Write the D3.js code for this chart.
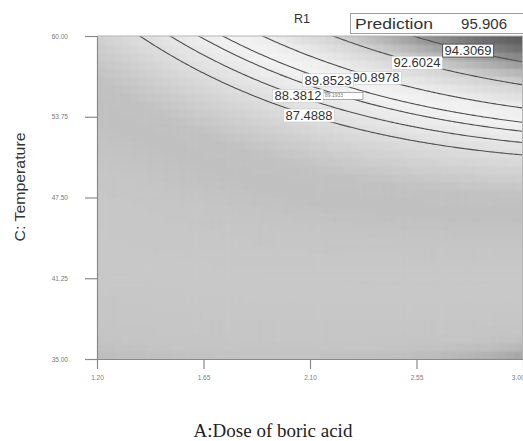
<!DOCTYPE html>
<html><head><meta charset="utf-8">
<script src="https://cdn.jsdelivr.net/npm/d3@7"></script>
<style>body{margin:0;background:#fff;} svg{display:block;}</style>
</head><body>
<svg id="chart" width="523" height="441"></svg>
<script>
// ---------------- data ----------------
const chartTitle = "R1";
const xAxisTitle = "A:Dose of boric acid";
const yAxisTitle = "C: Temperature";
const xTickValues = [1.20, 1.65, 2.10, 2.55, 3.00];
const xTickLabels = ["1.20", "1.65", "2.10", "2.55", "3.00"];
const yTickValues = [35.00, 41.25, 47.50, 53.75, 60.00];
const yTickLabels = ["35.00", "41.25", "47.50", "53.75", "60.00"];
const doseRange = [1.20, 3.00];
const tempRange = [35.00, 60.00];
// fitted quadratic response surface (coded units): intercept, A, C, AC, A^2, C^2
const modelTerms = ["Intercept", "A", "C", "AC", "A^2", "C^2"];
const modelCoefs = [83.025, 2.295, 8.6, 2.755, -0.85, 0.44];
const contourLevels = [87.4888, 88.3812, 89.1933, 89.8523, 90.8978, 92.6024, 94.3069];
const contourLabels = ["87.4888", "88.3812", "89.1933", "89.8523", "90.8978", "92.6024", "94.3069"];
// dose (A) at which each contour label sits on its line
const labelDose = [2.096, 2.049, 2.235, 2.176, 2.379, 2.552, 2.768];
const predictionName = "Prediction";
const predictionValue = "95.906";

// ---------------- drawing ----------------
const svg = d3.select("#chart");
const plot = {left: 97, right: 523, top: 36, bottom: 359};
const x = d3.scaleLinear().domain(doseRange).range([plot.left, plot.right]);
const y = d3.scaleLinear().domain(tempRange).range([plot.bottom, plot.top]);
const sans = "Arial, 'Liberation Sans', sans-serif";
const serif = "'Times New Roman', 'Liberation Serif', serif";

function response(A, C) {
  const a = (A - 2.1) / 0.9, c = (C - 47.5) / 12.5;
  const [b0, b1, b2, b12, b11, b22] = modelCoefs;
  return b0 + b1 * a + b2 * c + b12 * a * c + b11 * a * a + b22 * c * c;
}

const gray = d3.scaleLinear()
  .domain([73.5, 74.0, 74.6, 75.3, 78, 81, 83, 84.5, 86, 87.5, 89, 90, 91, 92.6, 93.5, 94.3, 95.3, 96.3])
  .range([150, 174, 190, 197, 200, 198, 192, 193, 207, 222, 236, 243, 236, 210, 182, 150, 112, 84])
  .clamp(true);
const grayColor = v => { const g = Math.round(gray(v)); return `rgb(${g},${g},${g})`; };

const defs = svg.append("defs");
defs.append("clipPath").attr("id", "plotClip").append("rect")
  .attr("x", plot.left).attr("y", plot.top)
  .attr("width", plot.right - plot.left).attr("height", plot.bottom - plot.top);
defs.append("filter").attr("id", "soft").attr("x", "-5%").attr("y", "-5%").attr("width", "110%").attr("height", "110%")
  .append("feGaussianBlur").attr("stdDeviation", 1.3);

const clipG = svg.append("g").attr("clip-path", "url(#plotClip)");

// heatmap cells
const nCols = 52, nRows = 40;
const dA = (doseRange[1] - doseRange[0]) / nCols, dC = (tempRange[1] - tempRange[0]) / nRows;
const cells = [];
for (let j = -1; j <= nRows; j++) for (let i = -1; i <= nCols; i++) {
  const A0 = doseRange[0] + i * dA, C0 = tempRange[0] + j * dC;
  cells.push({A0, C0, v: response(A0 + dA / 2, C0 + dC / 2)});
}
clipG.append("g").attr("filter", "url(#soft)")
  .selectAll("rect").data(cells).join("rect")
  .attr("x", d => x(d.A0)).attr("y", d => y(d.C0 + dC))
  .attr("width", x(doseRange[0] + dA) - x(doseRange[0]) + 0.6)
  .attr("height", y(tempRange[0]) - y(tempRange[0] + dC) + 0.6)
  .attr("fill", d => grayColor(d.v));

// contour lines
const nx = 260, ny = 220;
const Amin = 1.05, Amax = 3.15, Cmin = 33.5, Cmax = 61.5;
const stepA = (Amax - Amin) / (nx - 1), stepC = (Cmax - Cmin) / (ny - 1);
const grid = new Array(nx * ny);
for (let j = 0; j < ny; j++) for (let i = 0; i < nx; i++)
  grid[i + j * nx] = response(Amin + i * stepA, Cmax - j * stepC);
const contours = d3.contours().size([nx, ny]).thresholds(contourLevels)(grid);
const proj = d3.geoTransform({
  point(u, v) { this.stream.point(x(Amin + (u - 0.5) * stepA), y(Cmax - (v - 0.5) * stepC)); }
});
clipG.append("g").selectAll("path").data(contours).join("path")
  .attr("d", d3.geoPath(proj)).attr("fill", "none")
  .attr("stroke", "#505050").attr("stroke-width", 1.1);

// plot frame
svg.append("line").attr("x1", plot.left).attr("x2", plot.right).attr("y1", plot.top).attr("y2", plot.top)
  .attr("stroke", "#b5b5b5");
svg.append("line").attr("x1", plot.right - 0.5).attr("x2", plot.right - 0.5).attr("y1", plot.top).attr("y2", plot.bottom)
  .attr("stroke", "#b5b5b5");

// contour labels
function solveTemp(A, level) {
  let lo = 30, hi = 65;
  for (let k = 0; k < 60; k++) { const m = (lo + hi) / 2; if (response(A, m) < level) lo = m; else hi = m; }
  return (lo + hi) / 2;
}
const labelOrder = [2, 4, 3, 1, 0, 5, 6];
const labG = svg.append("g");
labelOrder.forEach(k => {
  const cx = x(labelDose[k]), cy = y(solveTemp(labelDose[k], contourLevels[k]));
  const g = labG.append("g");
  if (k === 2) {
    g.append("rect").attr("x", cx - 20).attr("y", cy - 3.5).attr("width", 41).attr("height", 7)
      .attr("fill", "#fff").attr("stroke", "#888").attr("stroke-width", 0.7);
    g.append("text").attr("x", cx - 17).attr("y", cy + 1.5).attr("font-family", sans)
      .attr("font-size", 5).attr("fill", "#777").text(contourLabels[k]);
    return;
  }
  const rect = g.append("rect");
  const t = g.append("text").attr("x", cx).attr("y", cy + 4.6).attr("text-anchor", "middle")
    .attr("font-family", sans).attr("font-size", 13).attr("fill", "#333").text(contourLabels[k]);
  const w = t.node().getComputedTextLength();
  rect.attr("x", cx - w / 2 - 2).attr("y", cy - 6.5).attr("width", w + 4).attr("height", 13)
    .attr("fill", "#fff").attr("stroke", k === 6 ? "#555" : "#c8c8c8").attr("stroke-width", k === 6 ? 1 : 0.6);
});

// axes
const yAxis = d3.axisLeft(y).tickValues(yTickValues).tickFormat((d, i) => yTickLabels[i])
  .tickSize(12).tickSizeOuter(0).tickPadding(17);
const yG = svg.append("g").attr("transform", `translate(${plot.left},0)`).call(yAxis);
const xAxis = d3.axisBottom(x).tickValues(xTickValues).tickFormat((d, i) => xTickLabels[i])
  .tickSize(10).tickSizeOuter(0).tickPadding(6);
const xG = svg.append("g").attr("transform", `translate(0,${plot.bottom})`).call(xAxis);
[yG, xG].forEach(g => {
  g.select(".domain").attr("stroke", "#8a8a8a").attr("stroke-width", 1.2);
  g.selectAll(".tick line").attr("stroke", "#8a8a8a").attr("stroke-width", 1.2);
  g.selectAll(".tick text").attr("font-family", sans).attr("font-size", 6.5).attr("fill", "#7a7a7a");
});
// keep the last x tick label inside the window
xG.selectAll(".tick text").filter((d, i) => i === xTickValues.length - 1).attr("text-anchor", "end").attr("dx", "1");

// titles
svg.append("text").attr("x", 302).attr("y", 23).attr("text-anchor", "middle")
  .attr("font-family", sans).attr("font-size", 12.5).attr("fill", "#333").text(chartTitle);
svg.append("rect").attr("x", 350.5).attr("y", 13.5).attr("width", 180).attr("height", 20)
  .attr("fill", "#fff").attr("stroke", "#a0a0a0");
svg.append("text").attr("x", 355).attr("y", 29).attr("font-family", sans).attr("font-size", 15)
  .attr("fill", "#333").attr("textLength", 78).attr("lengthAdjust", "spacingAndGlyphs").text(predictionName);
svg.append("text").attr("x", 507).attr("y", 29).attr("text-anchor", "end").attr("font-family", sans)
  .attr("font-size", 15).attr("fill", "#333").text(predictionValue);

svg.append("text").attr("transform", "translate(25,187) rotate(-90)").attr("text-anchor", "middle")
  .attr("font-family", sans).attr("font-size", 15).attr("fill", "#333")
  .attr("textLength", 109).attr("lengthAdjust", "spacingAndGlyphs").text(yAxisTitle);
svg.append("text").attr("x", 273).attr("y", 437).attr("text-anchor", "middle")
  .attr("font-family", serif).attr("font-size", 19).attr("fill", "#222").text(xAxisTitle);
</script>
</body></html>
